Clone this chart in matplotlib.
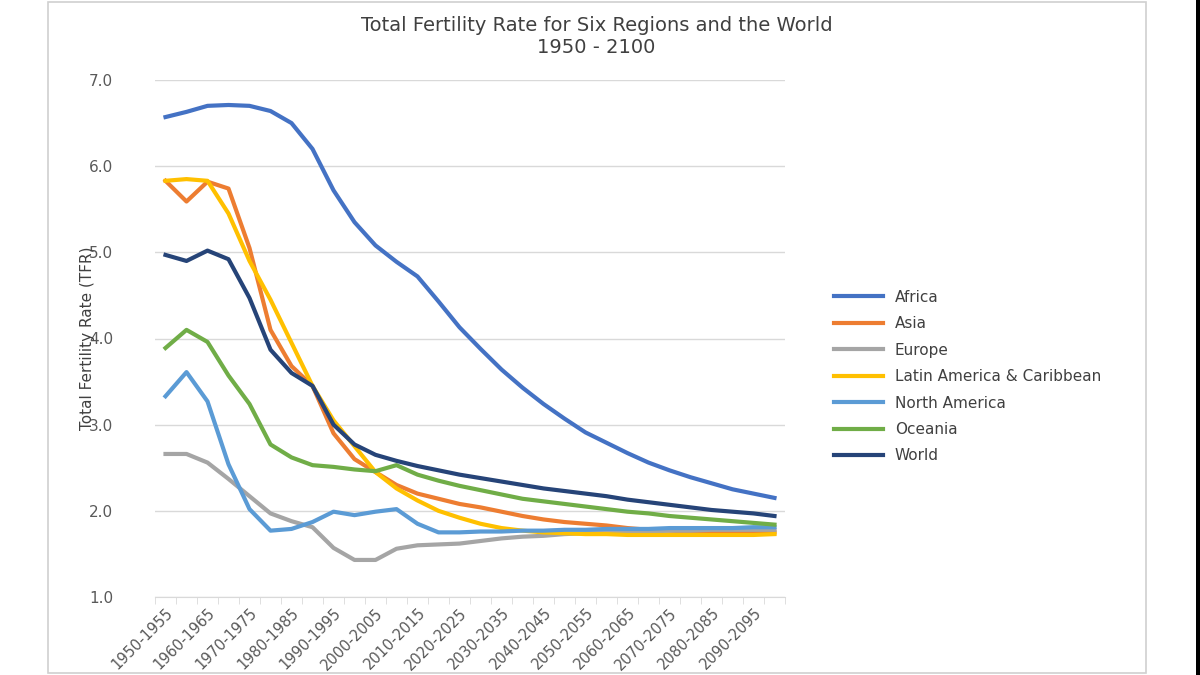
import matplotlib
matplotlib.use("Agg")
import matplotlib.pyplot as plt
from matplotlib.patches import Rectangle

periods = [f"{y}-{y+5}" for y in range(1950, 2100, 5)]
africa = [6.57,6.63,6.70,6.71,6.70,6.64,6.50,6.20,5.72,5.35,5.08,4.89,4.72,4.43,4.13,3.88,3.64,3.43,3.24,3.07,2.91,2.79,2.67,2.56,2.47,2.39,2.32,2.25,2.20,2.15]
asia = [5.83,5.59,5.82,5.74,5.05,4.10,3.68,3.45,2.90,2.60,2.45,2.30,2.20,2.14,2.08,2.04,1.99,1.94,1.90,1.87,1.85,1.83,1.80,1.78,1.77,1.76,1.75,1.75,1.75,1.75]
europe = [2.66,2.66,2.56,2.37,2.17,1.97,1.88,1.81,1.57,1.43,1.43,1.56,1.60,1.61,1.62,1.65,1.68,1.70,1.71,1.73,1.74,1.75,1.76,1.76,1.77,1.77,1.78,1.78,1.78,1.78]
latam = [5.83,5.85,5.83,5.45,4.90,4.45,3.95,3.45,3.05,2.75,2.45,2.26,2.12,2.00,1.92,1.85,1.80,1.77,1.75,1.74,1.73,1.73,1.72,1.72,1.72,1.72,1.72,1.72,1.72,1.73]
north_america = [3.33,3.61,3.27,2.54,2.02,1.77,1.79,1.87,1.99,1.95,1.99,2.02,1.85,1.75,1.75,1.76,1.76,1.77,1.77,1.78,1.78,1.79,1.79,1.79,1.80,1.80,1.80,1.80,1.81,1.81]
oceania = [3.89,4.10,3.96,3.57,3.24,2.77,2.62,2.53,2.51,2.48,2.46,2.53,2.42,2.35,2.29,2.24,2.19,2.14,2.11,2.08,2.05,2.02,1.99,1.97,1.94,1.92,1.90,1.88,1.86,1.84]
world = [4.97,4.90,5.02,4.92,4.47,3.87,3.60,3.45,3.00,2.77,2.65,2.58,2.52,2.47,2.42,2.38,2.34,2.30,2.26,2.23,2.20,2.17,2.13,2.10,2.07,2.04,2.01,1.99,1.97,1.94]

series = [("Africa", africa, "#4472C4"), ("Asia", asia, "#ED7D31"),
          ("Europe", europe, "#A5A5A5"), ("Latin America & Caribbean", latam, "#FFC000"),
          ("North America", north_america, "#5B9BD5"), ("Oceania", oceania, "#70AD47"),
          ("World", world, "#264478")]

fig = plt.figure(figsize=(12, 6.75), dpi=100)
fig.patches.append(Rectangle((48/1200, 2/675), (1146-48)/1200, 671/675, transform=fig.transFigure,
                             fill=False, edgecolor="#d0d0d0", lw=1.2))
fig.patches.append(Rectangle((1196/1200, 0), 4/1200, 1, transform=fig.transFigure,
                             facecolor="black", edgecolor="none"))
ax = fig.add_axes([155/1200, 78/675, 630/1200, 517/675])
x = list(range(len(periods)))
for name, vals, c in series:
    ax.plot(x, vals, color=c, lw=3, label=name)
ax.set_xlim(-0.5, len(periods)-0.5)
ax.set_ylim(1.0, 7.0)
ax.set_yticks([1,2,3,4,5,6,7])
ax.set_yticklabels([f"{v:.1f}" for v in range(1,8)], color="#595959", fontsize=11)
ax.set_xticks(x[::2])
ax.set_xticklabels(periods[::2], rotation=45, ha="right", rotation_mode="anchor", color="#595959", fontsize=10.5)
ax.set_xticks([i-0.5 for i in range(len(periods)+1)], minor=True)
ax.tick_params(axis="x", which="major", length=0, pad=6)
ax.tick_params(axis="x", which="minor", length=5, color="#d9d9d9")
ax.tick_params(axis="y", length=0, pad=30)
ax.grid(axis="y", color="#d9d9d9", lw=1)
for s in ["top", "right", "left"]:
    ax.spines[s].set_visible(False)
ax.spines["bottom"].set_color("#d9d9d9")
ax.set_ylabel("Total Fertility Rate (TFR)", fontsize=11, color="#404040", family="Liberation Sans Narrow", labelpad=0)
ax.yaxis.set_label_coords(-0.095, 0.5)
fig.text(0.497, 0.962, "Total Fertility Rate for Six Regions and the World", ha="center", va="center", fontsize=14, color="#404040")
fig.text(0.497, 0.930, "1950 - 2100", ha="center", va="center", fontsize=14, color="#404040")
fig.legend(loc="upper left", bbox_to_anchor=(820/1200, 1-276/675), frameon=False, fontsize=11,
           handlelength=3.2, labelspacing=0.75, labelcolor="#404040")
fig.savefig("out.png")
